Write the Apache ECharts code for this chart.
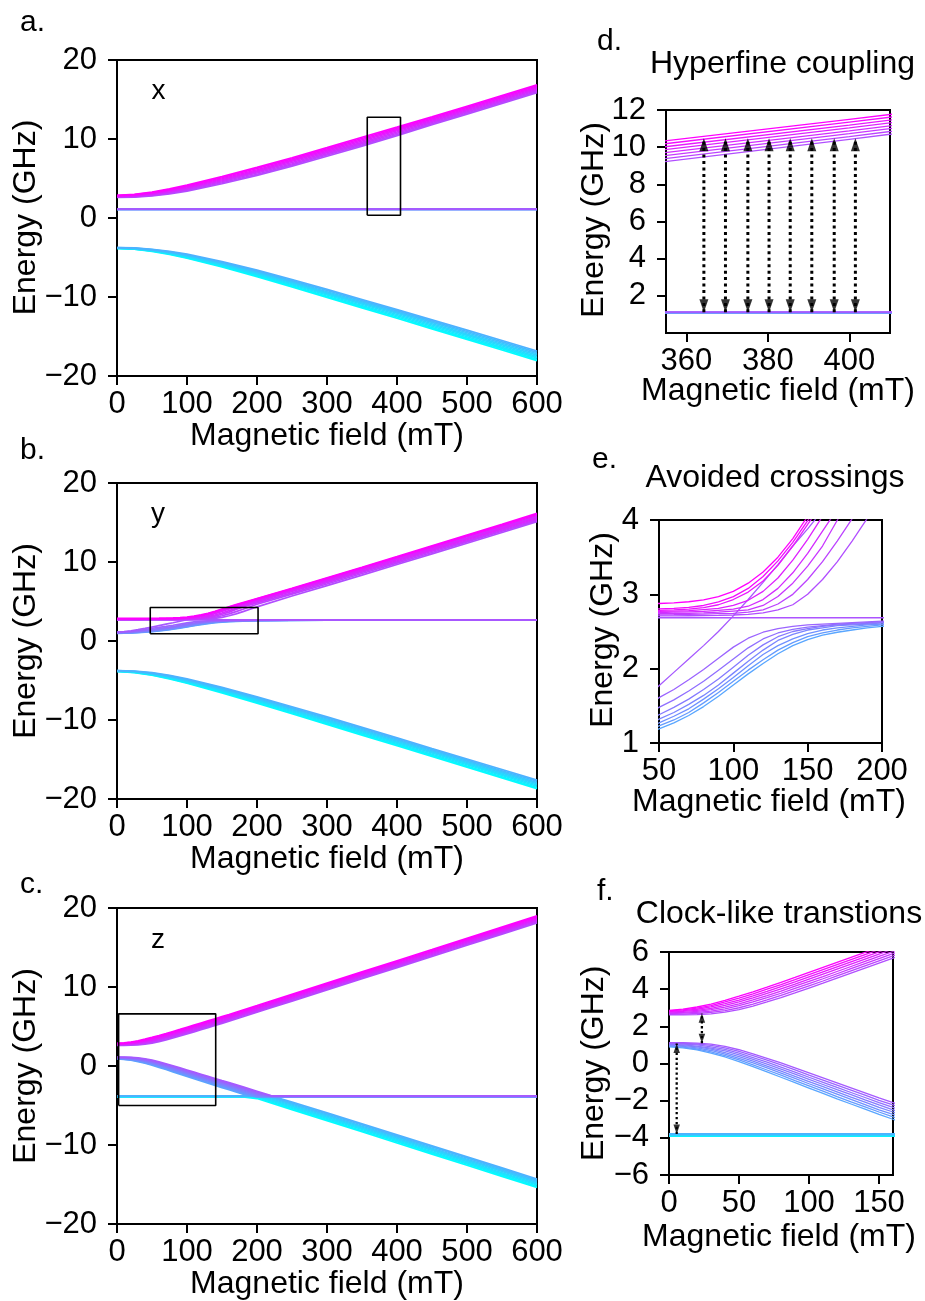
<!DOCTYPE html>
<html>
<head>
<meta charset="utf-8">
<script src="https://cdn.jsdelivr.net/npm/echarts@6/dist/echarts.min.js"></script>
<style>
  html, body { margin: 0; padding: 0; background: #fff; }
  #chart { width: 925px; height: 1301px; }
</style>
</head>
<body>
<div id="chart"></div>
<script>
// ===================== values =====================
// Field along x: three bands of eight hyperfine levels each (GHz vs mT)
const fieldGridX = [0, 25, 50, 75, 100, 150, 200, 250, 300, 350, 400, 450, 500, 550, 600];
const xLowerBand = [
  [-3.85, -3.95, -4.22, -4.61, -5.08, -6.19, -7.42, -8.72, -10.04, -11.37, -12.69, -14.03, -15.37, -16.71, -18.06],
  [-3.84, -3.93, -4.18, -4.56, -5.01, -6.09, -7.30, -8.58, -9.90, -11.22, -12.53, -13.87, -15.20, -16.54, -17.89],
  [-3.82, -3.90, -4.15, -4.50, -4.94, -6.00, -7.19, -8.45, -9.75, -11.07, -12.38, -13.70, -15.03, -16.37, -17.71],
  [-3.81, -3.88, -4.11, -4.45, -4.87, -5.90, -7.07, -8.32, -9.61, -10.92, -12.22, -13.54, -14.86, -16.20, -17.54],
  [-3.79, -3.86, -4.07, -4.39, -4.79, -5.80, -6.95, -8.18, -9.47, -10.77, -12.06, -13.38, -14.70, -16.03, -17.36],
  [-3.78, -3.84, -4.03, -4.34, -4.72, -5.70, -6.84, -8.05, -9.33, -10.61, -11.91, -13.22, -14.53, -15.85, -17.19],
  [-3.76, -3.81, -4.00, -4.28, -4.65, -5.61, -6.72, -7.92, -9.18, -10.46, -11.75, -13.05, -14.36, -15.68, -17.01],
  [-3.75, -3.79, -3.96, -4.23, -4.58, -5.51, -6.60, -7.79, -9.04, -10.31, -11.59, -12.89, -14.20, -15.51, -16.84]
];
const fieldEnds = [0, 600];
const xMiddleLevels = [1.075, 1.083, 1.091, 1.099, 1.107, 1.115, 1.123, 1.131];
const xUpperBand = [
  [2.61, 2.64, 2.79, 3.05, 3.40, 4.33, 5.40, 6.57, 7.81, 9.10, 10.42, 11.80, 13.15, 14.50, 15.85],
  [2.65, 2.69, 2.86, 3.14, 3.51, 4.46, 5.54, 6.72, 7.97, 9.26, 10.57, 11.94, 13.29, 14.64, 15.99],
  [2.68, 2.74, 2.93, 3.23, 3.62, 4.59, 5.69, 6.87, 8.12, 9.42, 10.73, 12.09, 13.44, 14.79, 16.14],
  [2.72, 2.79, 3.00, 3.32, 3.73, 4.72, 5.83, 7.02, 8.28, 9.58, 10.88, 12.23, 13.58, 14.93, 16.28],
  [2.76, 2.85, 3.08, 3.42, 3.83, 4.84, 5.97, 7.18, 8.44, 9.74, 11.04, 12.37, 13.72, 15.07, 16.42],
  [2.80, 2.90, 3.15, 3.51, 3.94, 4.97, 6.11, 7.33, 8.60, 9.90, 11.19, 12.51, 13.86, 15.21, 16.56],
  [2.83, 2.95, 3.22, 3.60, 4.05, 5.10, 6.26, 7.48, 8.75, 10.06, 11.35, 12.66, 14.01, 15.36, 16.71],
  [2.87, 3.00, 3.29, 3.69, 4.16, 5.23, 6.40, 7.63, 8.91, 10.22, 11.50, 12.80, 14.15, 15.50, 16.85]
];

// Field along y
const fieldGridY = [0, 10, 20, 30, 40, 50, 60, 70, 80, 90, 100, 110, 120, 130, 140, 150, 160, 170, 180, 190, 200,
                    250, 300, 350, 400, 450, 500, 550, 600];
const yLowerBand = [
  [-3.86, -4.00, -4.33, -4.81, -5.35, -6.56, -7.86, -9.21, -10.55, -11.91, -13.26, -14.62, -15.97, -17.33, -18.69],
  [-3.84, -3.97, -4.28, -4.74, -5.27, -6.46, -7.75, -9.08, -10.42, -11.77, -13.12, -14.47, -15.82, -17.18, -18.54],
  [-3.83, -3.94, -4.24, -4.68, -5.19, -6.36, -7.63, -8.96, -10.28, -11.63, -12.97, -14.33, -15.67, -17.03, -18.38],
  [-3.81, -3.91, -4.19, -4.61, -5.11, -6.26, -7.52, -8.83, -10.15, -11.49, -12.83, -14.18, -15.52, -16.88, -18.23],
  [-3.79, -3.89, -4.15, -4.55, -5.03, -6.16, -7.40, -8.71, -10.01, -11.35, -12.69, -14.04, -15.38, -16.72, -18.07],
  [-3.77, -3.86, -4.10, -4.48, -4.95, -6.06, -7.29, -8.58, -9.88, -11.21, -12.55, -13.89, -15.23, -16.57, -17.92],
  [-3.76, -3.83, -4.06, -4.42, -4.87, -5.96, -7.17, -8.46, -9.74, -11.07, -12.40, -13.75, -15.08, -16.42, -17.76],
  [-3.74, -3.80, -4.01, -4.36, -4.80, -5.86, -7.06, -8.33, -9.61, -10.93, -12.26, -13.60, -14.93, -16.27, -17.61]
];
// levels rising from 1.1 GHz that level off under the 2.7 GHz manifold (bottom line first)
const yRisingBand = [
  [0.97, 0.98, 1.01, 1.05, 1.11, 1.19, 1.27, 1.37, 1.49, 1.63, 1.78, 1.93, 2.07, 2.20, 2.31, 2.39, 2.45, 2.49, 2.52, 2.55, 2.57, 2.60, 2.625, 2.64, 2.648, 2.655, 2.66, 2.664, 2.666],
  [1.00, 1.01, 1.04, 1.09, 1.15, 1.23, 1.31, 1.41, 1.54, 1.68, 1.83, 1.98, 2.12, 2.25, 2.35, 2.43, 2.48, 2.52, 2.55, 2.57, 2.59, 2.615, 2.633, 2.645, 2.652, 2.658, 2.662, 2.666, 2.668],
  [1.02, 1.04, 1.07, 1.12, 1.19, 1.27, 1.36, 1.46, 1.59, 1.73, 1.88, 2.04, 2.19, 2.31, 2.40, 2.47, 2.52, 2.55, 2.57, 2.59, 2.60, 2.625, 2.64, 2.65, 2.656, 2.661, 2.665, 2.668, 2.67],
  [1.04, 1.06, 1.10, 1.16, 1.23, 1.32, 1.41, 1.52, 1.64, 1.78, 1.94, 2.10, 2.25, 2.38, 2.46, 2.52, 2.55, 2.58, 2.59, 2.60, 2.615, 2.635, 2.645, 2.653, 2.659, 2.664, 2.667, 2.67, 2.672],
  [1.06, 1.08, 1.13, 1.20, 1.28, 1.38, 1.48, 1.59, 1.72, 1.86, 2.02, 2.18, 2.32, 2.43, 2.50, 2.54, 2.57, 2.59, 2.60, 2.61, 2.62, 2.64, 2.65, 2.657, 2.662, 2.666, 2.669, 2.672, 2.674],
  [1.08, 1.11, 1.17, 1.26, 1.36, 1.48, 1.58, 1.70, 1.83, 1.98, 2.13, 2.28, 2.40, 2.48, 2.53, 2.56, 2.58, 2.60, 2.61, 2.62, 2.63, 2.645, 2.655, 2.66, 2.665, 2.668, 2.671, 2.674, 2.676],
  [1.10, 1.14, 1.22, 1.33, 1.46, 1.61, 1.72, 1.85, 1.99, 2.14, 2.29, 2.41, 2.49, 2.54, 2.57, 2.59, 2.60, 2.61, 2.62, 2.63, 2.64, 2.65, 2.66, 2.665, 2.67, 2.672, 2.674, 2.676, 2.678]
];
// the one level that crosses the 2.7 GHz manifold without repelling
const yCrossingLine = [1.12, 1.20, 1.30, 1.43, 1.59, 1.77, 1.95, 2.13, 2.31, 2.50, 2.71, 2.93, 3.16, 3.40, 3.65, 3.88, 4.13, 4.39, 4.65, 4.91, 5.17, 6.45, 7.74, 9.06, 10.38, 11.73, 13.06, 14.41, 15.76];
const yFlatLevel = 2.685;
// levels that start on the 2.7 GHz manifold and are pushed upward (bottom line first)
const yUpperBand = [
  [2.70, 2.702, 2.704, 2.706, 2.708, 2.71, 2.711, 2.712, 2.714, 2.717, 2.722, 2.73, 2.75, 2.79, 2.86, 3.00, 3.20, 3.44, 3.72, 4.02, 4.32, 5.70, 7.01, 8.34, 9.68, 11.03, 12.38, 13.74, 15.11],
  [2.712, 2.714, 2.716, 2.718, 2.721, 2.725, 2.727, 2.73, 2.733, 2.74, 2.745, 2.76, 2.79, 2.87, 3.00, 3.20, 3.44, 3.72, 4.02, 4.33, 4.65, 5.93, 7.22, 8.54, 9.86, 11.21, 12.54, 13.89, 15.24],
  [2.725, 2.727, 2.73, 2.733, 2.736, 2.74, 2.742, 2.745, 2.75, 2.76, 2.775, 2.79, 2.85, 2.97, 3.15, 3.38, 3.65, 4.00, 4.30, 4.57, 4.83, 6.10, 7.39, 8.70, 10.02, 11.36, 12.68, 14.02, 15.37],
  [2.74, 2.742, 2.745, 2.748, 2.751, 2.755, 2.76, 2.765, 2.77, 2.785, 2.80, 2.84, 2.93, 3.08, 3.29, 3.55, 3.85, 4.15, 4.44, 4.72, 4.99, 6.26, 7.54, 8.85, 10.16, 11.50, 12.82, 14.16, 15.50],
  [2.755, 2.757, 2.76, 2.763, 2.766, 2.77, 2.775, 2.78, 2.795, 2.81, 2.85, 2.92, 3.04, 3.22, 3.46, 3.74, 4.05, 4.33, 4.60, 4.86, 5.12, 6.39, 7.67, 8.98, 10.29, 11.63, 12.95, 14.29, 15.63],
  [2.77, 2.772, 2.775, 2.778, 2.781, 2.785, 2.79, 2.80, 2.82, 2.86, 2.93, 3.03, 3.18, 3.39, 3.65, 3.94, 4.23, 4.50, 4.76, 5.02, 5.28, 6.56, 7.86, 9.17, 10.50, 11.85, 13.19, 14.53, 15.89],
  [2.79, 2.792, 2.795, 2.798, 2.80, 2.805, 2.81, 2.825, 2.85, 2.90, 2.97, 3.08, 3.24, 3.45, 3.70, 3.99, 4.28, 4.55, 4.81, 5.07, 5.33, 6.62, 7.93, 9.25, 10.59, 11.95, 13.30, 14.65, 16.02],
  [2.86, 2.862, 2.865, 2.868, 2.872, 2.877, 2.885, 2.90, 2.925, 2.97, 3.04, 3.15, 3.30, 3.50, 3.75, 4.05, 4.33, 4.60, 4.86, 5.12, 5.38, 6.68, 8.00, 9.33, 10.68, 12.05, 13.41, 14.77, 16.15]
];

// Field along z
const fieldGridZ = [0, 10, 20, 30, 40, 50, 60, 70, 80, 90, 100, 110, 120, 130, 140, 150, 160,
                    180, 200, 220, 250, 300, 350, 400, 450, 500, 550, 600];
const zLowerBand = [
  [-3.92, -3.92, -3.92, -3.92, -3.92, -3.92, -3.92, -3.92, -3.92, -3.92, -3.92, -3.92, -3.92, -3.92, -3.92, -3.92, -3.92, -3.92, -4.12, -4.68, -5.52, -6.92, -8.33, -9.74, -11.15, -12.56, -13.97, -15.38],
  [-3.90, -3.90, -3.90, -3.90, -3.90, -3.90, -3.90, -3.90, -3.90, -3.90, -3.90, -3.90, -3.90, -3.90, -3.90, -3.90, -3.90, -3.90, -3.99, -4.55, -5.38, -6.78, -8.19, -9.59, -11.00, -12.41, -13.82, -15.23],
  [-3.88, -3.88, -3.88, -3.88, -3.88, -3.88, -3.88, -3.88, -3.88, -3.88, -3.88, -3.88, -3.88, -3.88, -3.88, -3.88, -3.88, -3.88, -3.88, -4.41, -5.25, -6.64, -8.04, -9.45, -10.85, -12.26, -13.66, -15.07],
  [-3.86, -3.86, -3.86, -3.86, -3.86, -3.86, -3.86, -3.86, -3.86, -3.86, -3.86, -3.86, -3.86, -3.86, -3.86, -3.86, -3.86, -3.86, -3.86, -4.28, -5.11, -6.50, -7.90, -9.30, -10.70, -12.11, -13.51, -14.92],
  [-3.84, -3.84, -3.84, -3.84, -3.84, -3.84, -3.84, -3.84, -3.84, -3.84, -3.84, -3.84, -3.84, -3.84, -3.84, -3.84, -3.84, -3.84, -3.84, -4.14, -4.97, -6.36, -7.76, -9.16, -10.56, -11.95, -13.36, -14.76],
  [-3.82, -3.82, -3.82, -3.82, -3.82, -3.82, -3.82, -3.82, -3.82, -3.82, -3.82, -3.82, -3.82, -3.82, -3.82, -3.82, -3.82, -3.82, -3.82, -4.01, -4.84, -6.22, -7.62, -9.01, -10.41, -11.80, -13.21, -14.61],
  [-3.80, -3.80, -3.80, -3.80, -3.80, -3.80, -3.80, -3.80, -3.80, -3.80, -3.80, -3.80, -3.80, -3.80, -3.80, -3.80, -3.80, -3.80, -3.80, -3.87, -4.70, -6.08, -7.47, -8.87, -10.26, -11.65, -13.05, -14.45],
  [-3.78, -3.78, -3.78, -3.78, -3.78, -3.78, -3.78, -3.78, -3.78, -3.78, -3.78, -3.78, -3.78, -3.78, -3.78, -3.78, -3.78, -3.78, -3.78, -3.78, -4.56, -5.94, -7.33, -8.72, -10.11, -11.50, -12.90, -14.30]
];
const zMiddleBand = [
  [0.90, 0.84, 0.73, 0.56, 0.35, 0.10, -0.17, -0.45, -0.74, -1.03, -1.32, -1.61, -1.90, -2.18, -2.46, -2.74, -3.00, -3.56, -3.92, -3.92, -3.92, -3.92, -3.92, -3.92, -3.92, -3.92, -3.92, -3.92],
  [0.93, 0.88, 0.78, 0.63, 0.43, 0.19, -0.07, -0.35, -0.63, -0.92, -1.20, -1.49, -1.78, -2.06, -2.33, -2.61, -2.87, -3.43, -3.90, -3.90, -3.90, -3.90, -3.90, -3.90, -3.90, -3.90, -3.90, -3.90],
  [0.96, 0.92, 0.84, 0.70, 0.51, 0.28, 0.03, -0.24, -0.52, -0.80, -1.09, -1.37, -1.65, -1.93, -2.21, -2.49, -2.74, -3.30, -3.85, -3.88, -3.88, -3.88, -3.88, -3.88, -3.88, -3.88, -3.88, -3.88],
  [0.99, 0.96, 0.89, 0.77, 0.59, 0.37, 0.13, -0.14, -0.41, -0.69, -0.97, -1.25, -1.53, -1.81, -2.08, -2.36, -2.61, -3.17, -3.72, -3.86, -3.86, -3.86, -3.86, -3.86, -3.86, -3.86, -3.86, -3.86],
  [1.03, 1.00, 0.94, 0.83, 0.68, 0.47, 0.22, -0.03, -0.30, -0.57, -0.85, -1.13, -1.41, -1.68, -1.96, -2.23, -2.49, -3.03, -3.59, -3.84, -3.84, -3.84, -3.84, -3.84, -3.84, -3.84, -3.84, -3.84],
  [1.06, 1.04, 1.00, 0.90, 0.76, 0.56, 0.32, 0.07, -0.19, -0.46, -0.74, -1.01, -1.29, -1.56, -1.83, -2.11, -2.36, -2.90, -3.46, -3.82, -3.82, -3.82, -3.82, -3.82, -3.82, -3.82, -3.82, -3.82],
  [1.09, 1.08, 1.05, 0.97, 0.84, 0.65, 0.42, 0.18, -0.08, -0.34, -0.62, -0.89, -1.16, -1.43, -1.70, -1.98, -2.23, -2.77, -3.32, -3.80, -3.80, -3.80, -3.80, -3.80, -3.80, -3.80, -3.80, -3.80],
  [1.12, 1.12, 1.10, 1.04, 0.92, 0.74, 0.52, 0.28, 0.03, -0.23, -0.50, -0.77, -1.04, -1.31, -1.58, -1.85, -2.10, -2.64, -3.19, -3.74, -3.78, -3.78, -3.78, -3.78, -3.78, -3.78, -3.78, -3.78]
];
const zUpperBand = [
  [2.62, 2.62, 2.63, 2.67, 2.76, 2.90, 3.09, 3.31, 3.55, 3.80, 4.06, 4.32, 4.59, 4.86, 5.13, 5.40, 5.67, 6.24, 6.80, 7.37, 8.21, 9.63, 11.04, 12.45, 13.86, 15.28, 16.69, 18.10],
  [2.65, 2.66, 2.69, 2.75, 2.85, 3.00, 3.20, 3.42, 3.67, 3.92, 4.18, 4.44, 4.71, 4.98, 5.25, 5.52, 5.79, 6.36, 6.92, 7.49, 8.33, 9.75, 11.16, 12.58, 13.99, 15.41, 16.82, 18.23],
  [2.69, 2.71, 2.75, 2.82, 2.94, 3.11, 3.31, 3.54, 3.78, 4.04, 4.30, 4.56, 4.83, 5.10, 5.37, 5.64, 5.91, 6.48, 7.04, 7.61, 8.46, 9.88, 11.29, 12.70, 14.11, 15.53, 16.94, 18.36],
  [2.72, 2.75, 2.81, 2.90, 3.03, 3.21, 3.42, 3.65, 3.90, 4.16, 4.42, 4.68, 4.95, 5.22, 5.49, 5.76, 6.03, 6.60, 7.16, 7.73, 8.58, 10.00, 11.41, 12.83, 14.24, 15.66, 17.07, 18.49],
  [2.76, 2.80, 2.86, 2.97, 3.13, 3.31, 3.53, 3.77, 4.02, 4.27, 4.54, 4.81, 5.08, 5.35, 5.62, 5.89, 6.16, 6.73, 7.29, 7.86, 8.70, 10.12, 11.54, 12.95, 14.36, 15.78, 17.20, 18.61],
  [2.79, 2.84, 2.92, 3.05, 3.22, 3.41, 3.64, 3.88, 4.14, 4.39, 4.66, 4.93, 5.20, 5.47, 5.74, 6.01, 6.28, 6.85, 7.41, 7.98, 8.82, 10.24, 11.66, 13.08, 14.49, 15.91, 17.33, 18.74],
  [2.83, 2.89, 2.98, 3.12, 3.31, 3.52, 3.75, 4.00, 4.25, 4.51, 4.78, 5.05, 5.32, 5.59, 5.86, 6.13, 6.40, 6.97, 7.53, 8.10, 8.95, 10.37, 11.79, 13.20, 14.61, 16.03, 17.45, 18.87],
  [2.86, 2.93, 3.04, 3.20, 3.40, 3.62, 3.86, 4.11, 4.37, 4.63, 4.90, 5.17, 5.44, 5.71, 5.98, 6.25, 6.52, 7.09, 7.65, 8.22, 9.07, 10.49, 11.91, 13.33, 14.74, 16.16, 17.58, 19.00]
];

// transition arrows: [field, lower energy, upper energy]
const hyperfineArrows = [
  [364.3, 1.11, 10.48], [369.6, 1.11, 10.48], [375.1, 1.11, 10.48], [380.3, 1.11, 10.48],
  [385.5, 1.11, 10.48], [390.8, 1.11, 10.48], [396.3, 1.11, 10.48], [401.5, 1.11, 10.48]
];
const clockArrows = [[23.5, 1.09, 2.70], [5.5, -3.80, 1.08]];

// zoom boxes: [field from, field to, energy from, energy to]
const zoomBoxA = [357.5, 405, 0.35, 12.75];
const zoomBoxB = [47.5, 201.5, 0.92, 4.25];
const zoomBoxC = [2.3, 141, -5.0, 6.6];

// axis ranges and tick labels
const fullFieldRange = [0, 600],  fullFieldTicks = [0, 100, 200, 300, 400, 500, 600];
const fullEnergyRange = [-20, 20], fullEnergyTicks = [-20, -10, 0, 10, 20];
const dFieldRange = [355, 410],   dFieldTicks = [360, 380, 400];
const dEnergyRange = [0, 12],     dEnergyTicks = [2, 4, 6, 8, 10, 12];
const eFieldRange = [50, 200],    eFieldTicks = [50, 100, 150, 200];
const eEnergyRange = [1, 4],      eEnergyTicks = [1, 2, 3, 4];
const fFieldRange = [0, 160],     fFieldTicks = [0, 50, 100, 150];
const fEnergyRange = [-6, 6],     fEnergyTicks = [-6, -4, -2, 0, 2, 4, 6];

// ===================== drawing =====================
const FONT = '"Liberation Sans", Arial, Helvetica, sans-serif';
const TICK_PX = 31, NAME_PX = 32, LETTER_PX = 30;

// matplotlib "cool" colormap, 0 -> cyan, 1 -> magenta
function cool(t) {
  return 'rgb(' + Math.round(255 * t) + ',' + Math.round(255 * (1 - t)) + ',255)';
}
function minusSign(v) { return v < 0 ? '\u2212' + Math.abs(v) : String(v); }
function zip(xs, ys) { return xs.map(function (x, i) { return [x, ys[i]]; }); }

const layouts = [
  { left: 117, top: 60,  width: 420, height: 316 },  // a
  { left: 117, top: 483, width: 420, height: 316 },  // b
  { left: 117, top: 908, width: 420, height: 316 },  // c
  { left: 666, top: 110, width: 224, height: 223 },  // d
  { left: 659, top: 520, width: 223, height: 223 },  // e
  { left: 669, top: 952, width: 224, height: 223 }   // f
];
const axesDef = [
  [fullFieldRange, fullFieldTicks, fullEnergyRange, fullEnergyTicks],
  [fullFieldRange, fullFieldTicks, fullEnergyRange, fullEnergyTicks],
  [fullFieldRange, fullFieldTicks, fullEnergyRange, fullEnergyTicks],
  [dFieldRange, dFieldTicks, dEnergyRange, dEnergyTicks],
  [eFieldRange, eFieldTicks, eEnergyRange, eEnergyTicks],
  [fFieldRange, fFieldTicks, fEnergyRange, fEnergyTicks]
];

function makeAxis(gi, range, ticks, isX) {
  return {
    type: 'value', gridIndex: gi, min: range[0], max: range[1],
    scale: true,
    axisLine: { show: true, onZero: false, lineStyle: { color: '#000', width: 2 } },
    axisTick: { show: true, inside: false, length: 9, customValues: ticks,
                lineStyle: { color: '#000', width: 2 } },
    axisLabel: { show: true, customValues: ticks, color: '#000', fontSize: TICK_PX,
                 fontFamily: FONT, margin: isX ? 13 : 20, formatter: minusSign },
    splitLine: { show: false }
  };
}

const grids = layouts.map(function (l) {
  return { left: l.left, top: l.top, width: l.width, height: l.height,
           show: true, borderColor: '#000', borderWidth: 2, backgroundColor: 'transparent' };
});
const xAxes = axesDef.map(function (a, i) { return makeAxis(i, a[0], a[1], true); });
const yAxes = axesDef.map(function (a, i) { return makeAxis(i, a[2], a[3], false); });

const series = [];
function addLine(gi, xs, ys, t) {
  series.push({
    type: 'line', xAxisIndex: gi, yAxisIndex: gi, data: zip(xs, ys),
    showSymbol: false, symbol: 'none', clip: true, silent: true, animation: false,
    lineStyle: { color: cool(t), width: gi < 3 ? 1.7 : 1.3 }, z: 2
  });
}

// levels drawn from cyan (lowest) to magenta (highest)
function drawFieldX(gi) {
  xLowerBand.forEach(function (ys, k) { addLine(gi, fieldGridX, ys, k / 23); });
  xMiddleLevels.forEach(function (v, k) { addLine(gi, fieldEnds, [v, v], (8 + k) / 23); });
  xUpperBand.forEach(function (ys, k) { addLine(gi, fieldGridX, ys, (16 + k) / 23); });
}
function drawFieldY(gi) {
  yLowerBand.forEach(function (ys, k) { addLine(gi, fieldGridX, ys, k / 23); });
  yRisingBand.forEach(function (ys, k) { addLine(gi, fieldGridY, ys, (8 + k) / 23); });
  addLine(gi, fieldGridY, yCrossingLine, 15 / 23);
  addLine(gi, fieldEnds, [yFlatLevel, yFlatLevel], 15.5 / 23);
  yUpperBand.forEach(function (ys, k) { addLine(gi, fieldGridY, ys, (16 + k) / 23); });
}
function drawFieldZ(gi) {
  zLowerBand.forEach(function (ys, k) { addLine(gi, fieldGridZ, ys, k / 23); });
  zMiddleBand.forEach(function (ys, k) { addLine(gi, fieldGridZ, ys, (8 + k) / 23); });
  zUpperBand.forEach(function (ys, k) { addLine(gi, fieldGridZ, ys, (16 + k) / 23); });
}
drawFieldX(0); drawFieldY(1); drawFieldZ(2);
drawFieldX(3); drawFieldY(4); drawFieldZ(5);

function addBox(gi, b) {
  series.push({
    type: 'line', xAxisIndex: gi, yAxisIndex: gi,
    data: [[b[0], b[2]], [b[1], b[2]], [b[1], b[3]], [b[0], b[3]], [b[0], b[2]]],
    showSymbol: false, symbol: 'none', clip: false, silent: true, animation: false,
    lineStyle: { color: '#000', width: 1.6 }, z: 5
  });
}
addBox(0, zoomBoxA); addBox(1, zoomBoxB); addBox(2, zoomBoxC);

function addArrows(gi, arrows, lw, head) {
  arrows.forEach(function (a) {
    series.push({
      type: 'line', xAxisIndex: gi, yAxisIndex: gi, data: [[a[0], a[1]], [a[0], a[2]]],
      showSymbol: false, symbol: 'none', clip: true, silent: true, animation: false,
      lineStyle: { color: '#000', width: lw, type: [lw, lw * 1.15], cap: 'butt' }, z: 6
    });
  });
  series.push({
    type: 'scatter', xAxisIndex: gi, yAxisIndex: gi, silent: true, animation: false,
    data: arrows.map(function (a) { return [a[0], a[2]]; }),
    symbol: 'triangle', symbolSize: head, symbolOffset: [0, '50%'],
    itemStyle: { color: '#000' }, z: 7
  });
  series.push({
    type: 'scatter', xAxisIndex: gi, yAxisIndex: gi, silent: true, animation: false,
    data: arrows.map(function (a) { return [a[0], a[1]]; }),
    symbol: 'triangle', symbolSize: head, symbolRotate: 180, symbolOffset: [0, '-50%'],
    itemStyle: { color: '#000' }, z: 7
  });
}
addArrows(3, hyperfineArrows, 3, [9, 13]);
addArrows(5, clockArrows, 2.3, [6.5, 9.5]);

// ---- text ----
function txt(s, x, y, size, align, rot) {
  return {
    type: 'text', x: x, y: y, rotation: rot || 0, silent: true, z: 10,
    style: { text: s, x: 0, y: 0, fill: '#000', fontSize: size, fontFamily: FONT,
             align: align || 'center', verticalAlign: 'middle',
             textAlign: align || 'center', textVerticalAlign: 'middle' }
  };
}
const R = Math.PI / 2;
const graphics = [
  txt('a.', 20, 23, LETTER_PX, 'left'), txt('b.', 20, 450.5, LETTER_PX, 'left'), txt('c.', 20, 885, LETTER_PX, 'left'),
  txt('d.', 597, 42, LETTER_PX, 'left'), txt('e.', 592, 460, LETTER_PX, 'left'), txt('f.', 597, 892, LETTER_PX, 'left'),
  txt('x', 158.5, 91.7, 28), txt('y', 158, 514, 28), txt('z', 158, 940.7, 28),
  txt('Hyperfine coupling', 782.5, 64.3, NAME_PX),
  txt('Avoided crossings', 775, 478.6, NAME_PX),
  txt('Clock-like transtions', 779, 914.3, NAME_PX),
  txt('Magnetic field (mT)', 327, 436, NAME_PX),
  txt('Magnetic field (mT)', 327, 859.5, NAME_PX),
  txt('Magnetic field (mT)', 327, 1284, NAME_PX),
  txt('Magnetic field (mT)', 778, 391, NAME_PX),
  txt('Magnetic field (mT)', 769, 802.6, NAME_PX),
  txt('Magnetic field (mT)', 779, 1237.6, NAME_PX),
  txt('Energy (GHz)', 26, 217.5, NAME_PX, 'center', R),
  txt('Energy (GHz)', 26, 641, NAME_PX, 'center', R),
  txt('Energy (GHz)', 26, 1066, NAME_PX, 'center', R),
  txt('Energy (GHz)', 594.5, 220, NAME_PX, 'center', R),
  txt('Energy (GHz)', 602.8, 630, NAME_PX, 'center', R),
  txt('Energy (GHz)', 594.5, 1063.3, NAME_PX, 'center', R)
];

const chart = echarts.init(document.getElementById('chart'), null, { renderer: 'canvas' });
chart.setOption({
  animation: false,
  backgroundColor: '#fff',
  textStyle: { fontFamily: FONT },
  grid: grids,
  xAxis: xAxes,
  yAxis: yAxes,
  series: series,
  graphic: graphics
});
</script>
</body>
</html>
